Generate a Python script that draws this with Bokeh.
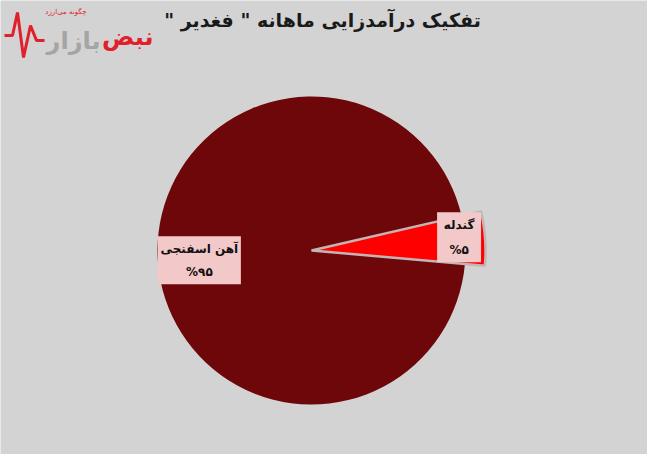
import numpy as np
from bokeh.plotting import figure
from bokeh.models import Range1d
from bokeh.core.properties import value
from bokeh.embed import file_html
from bokeh.resources import INLINE

# ---- data ----
categories = ["گندله", "آهن اسفنجی"]
shares = [5, 95]
pct_labels = ["%۵", "%۹۵"]
colors = ["#ff0000", "#6d0709"]
title_text = 'تفکیک درآمدزایی ماهانه " فغدیر "'

W, H = 647, 454
BG = "#d3d3d3"
FONT = "DejaVu Sans"

p = figure(width=W, height=H, output_backend="svg", toolbar_location=None,
           x_range=Range1d(0, W), y_range=Range1d(0, H), min_border=0,
           background_fill_color=BG, border_fill_color=BG, outline_line_color=None)
p.axis.visible = False
p.grid.visible = False

def X(ix):
    return ix
def Y(iy):
    return H - iy

cx, cy = X(311), Y(250)
R = 154
R_hi = 174

frac = np.array(shares, dtype=float) / sum(shares)
start_offset = np.deg2rad(-5)
ends = start_offset + np.cumsum(frac) * 2 * np.pi
starts = np.concatenate([[start_offset], ends[:-1]])
radii = [R_hi, R]

# dark slice first (underneath), then highlighted small slice
p.wedge(x=cx, y=cy, radius=radii[1], start_angle=starts[1], end_angle=ends[1],
        fill_color=colors[1], line_color=None)
p.wedge(x=cx, y=cy, radius=radii[0], start_angle=starts[0], end_angle=ends[0],
        fill_color=colors[0], line_color="#c4b4b4", line_width=2.5)

# labels anchored at the outer point of each slice's mid angle
mids = (starts + ends) / 2
box_w = [44, 83]
box_h = [50, 48]
inset = [4, 0]
for i in range(2):
    ox = cx + radii[i] * np.cos(mids[i])
    oy = cy + radii[i] * np.sin(mids[i])
    if np.cos(mids[i]) > 0:
        right = ox - inset[i]
        left = right - box_w[i]
    else:
        left, right = ox, ox + box_w[i]
    top, bottom = oy + box_h[i] / 2 + 1, oy - box_h[i] / 2 + 1
    if np.cos(mids[i]) < 0:
        p.patch(x=[ox, ox + 3, ox + 3], y=[oy - 4, oy - 1, oy - 9],
                fill_color="#f2c8c8", line_color=None)
    p.quad(left=left, right=right, top=top, bottom=bottom,
           fill_color="#f2c8c8", line_color=None)
    xm = (left + right) / 2
    p.text(x=[xm], y=[top - 13], text=[categories[i]], text_font=value(FONT),
           text_font_style="bold", text_font_size="12px", text_color="#111111",
           text_align="center", text_baseline="middle")
    p.text(x=[xm], y=[bottom + 12], text=[pct_labels[i]], text_font=value(FONT),
           text_font_style="bold", text_font_size="12px", text_color="#111111",
           text_align="center", text_baseline="middle")

# title (embedded right-to-left so the quotes stay in place)
p.text(x=[X(322)], y=[Y(19)], text=["\u202B" + title_text + "\u202C"],
       text_font=value(FONT), text_font_style="bold", text_font_size="19px",
       text_color="#1a1a1a", text_align="center", text_baseline="middle")

# watermark logo
p.line(x=[X(4), X(12), X(17), X(23), X(30), X(36), X(44)],
       y=[Y(35), Y(35), Y(12), Y(57), Y(25), Y(40), Y(40)],
       line_color="#e0202a", line_width=3)
p.text(x=[X(153)], y=[Y(36)], text=["نبض"], text_font=value(FONT),
       text_font_style="bold", text_font_size="24px", text_color="#e0202a",
       text_align="right", text_baseline="middle")
p.text(x=[X(100)], y=[Y(40)], text=["بازار"], text_font=value(FONT),
       text_font_style="bold", text_font_size="24px", text_color="#a5a5a5",
       text_align="right", text_baseline="middle")
p.text(x=[X(86)], y=[Y(11)], text=["چگونه می‌ارزد"], text_font=value(FONT),
       text_font_size="7px", text_color="#e0202a",
       text_align="right", text_baseline="middle")

html = file_html(p, INLINE)
open("out.html", "w").write(html)
